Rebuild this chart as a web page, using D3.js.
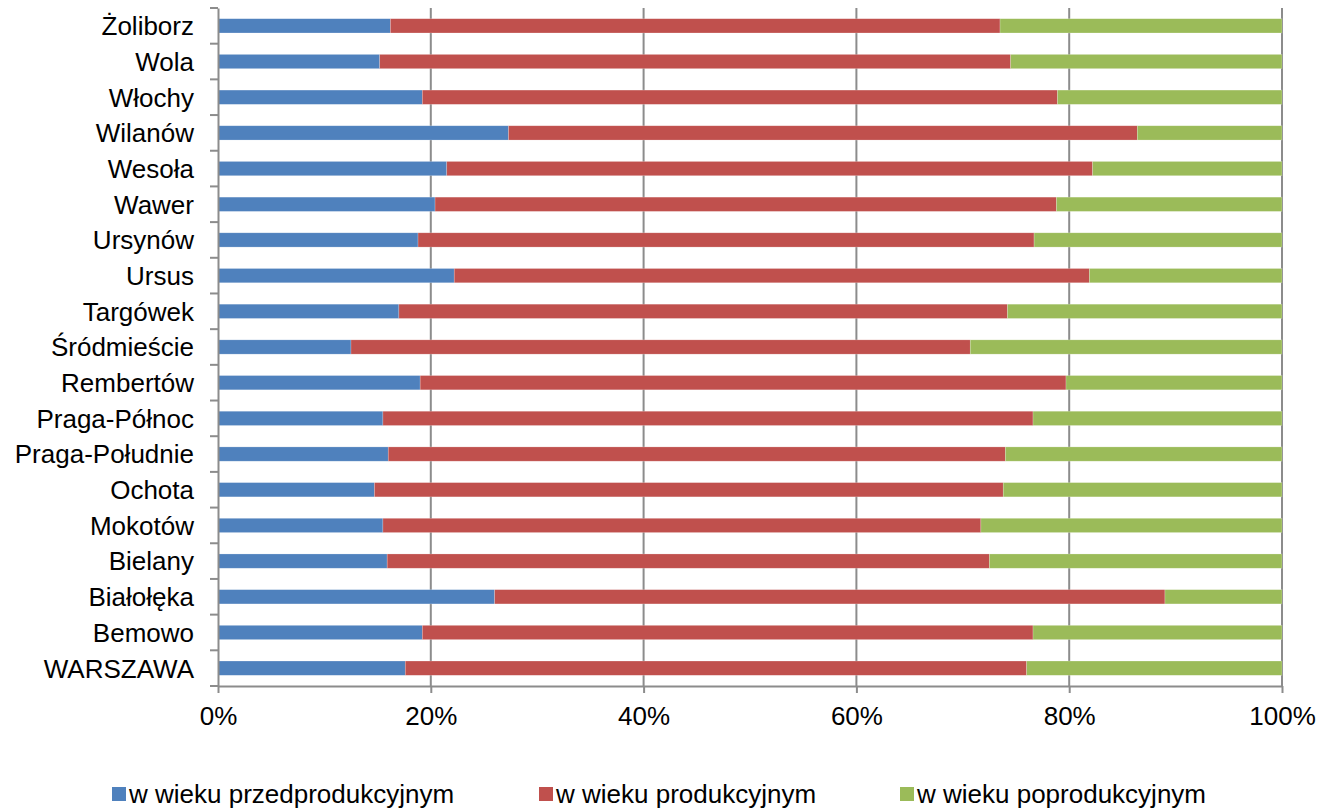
<!DOCTYPE html>
<html>
<head>
<meta charset="utf-8">
<script src="https://cdn.jsdelivr.net/npm/d3@7"></script>
<style>
  body { margin: 0; background: #fff; }
  text { font-family: "Liberation Sans", Arial, sans-serif; fill: #000; }
</style>
</head>
<body>
<svg id="chart" width="1321" height="809"></svg>
<script>
// Districts, top to bottom
const districts = ["Żoliborz", "Wola", "Włochy", "Wilanów", "Wesoła", "Wawer", "Ursynów", "Ursus",
  "Targówek", "Śródmieście", "Rembertów", "Praga-Północ", "Praga-Południe", "Ochota", "Mokotów",
  "Bielany", "Białołęka", "Bemowo", "WARSZAWA"];

// share of population, %
const przed = [16.2, 15.2, 19.2, 27.3, 21.5, 20.4, 18.8, 22.2, 17.0, 12.5, 19.0, 15.5, 16.0, 14.7, 15.5, 15.9, 26.0, 19.2, 17.6];
const prod  = [57.3, 59.3, 59.7, 59.1, 60.7, 58.4, 57.9, 59.7, 57.2, 58.2, 60.7, 61.1, 58.0, 59.1, 56.2, 56.6, 63.0, 57.4, 58.4];
const po    = [26.5, 25.5, 21.1, 13.6, 17.8, 21.2, 23.3, 18.1, 25.8, 29.3, 20.3, 23.4, 26.0, 26.2, 28.3, 27.5, 11.0, 23.4, 24.0];

const seriesNames = ["w wieku przedprodukcyjnym", "w wieku produkcyjnym", "w wieku poprodukcyjnym"];
const colors = ["#4F81BD", "#C0504D", "#9BBB59"];
const xTicks = [0, 20, 40, 60, 80, 100];

const rows = districts.map((d, i) => ({ name: d, a: przed[i], b: prod[i], c: po[i] }));
const stack = d3.stack().keys(["a", "b", "c"]).offset(d3.stackOffsetExpand)(rows);

const svg = d3.select("#chart");
const plotLeft = 218, plotRight = 1282, plotTop = 8, plotBottom = 686;

const x = d3.scaleLinear().domain([0, 1]).range([plotLeft, plotRight]);
const y = d3.scaleBand().domain(districts).range([plotTop, plotBottom]).paddingInner(0.6).paddingOuter(0.3);

// vertical gridlines
svg.append("g").selectAll("line")
  .data(xTicks.slice(1))
  .join("line")
  .attr("x1", d => x(d / 100)).attr("x2", d => x(d / 100))
  .attr("y1", plotTop).attr("y2", plotBottom)
  .attr("stroke", "#8c8c8c").attr("stroke-width", 2);

// bars
svg.append("g").selectAll("g")
  .data(stack)
  .join("g")
  .attr("fill", (d, i) => colors[i])
  .selectAll("rect")
  .data(d => d)
  .join("rect")
  .attr("x", d => x(d[0]))
  .attr("width", d => x(d[1]) - x(d[0]))
  .attr("y", d => y(d.data.name))
  .attr("height", y.bandwidth())
  .attr("stroke", "rgba(255,255,255,0.35)")
  .attr("stroke-width", 0.6);

// x axis
const xAxis = svg.append("g")
  .attr("transform", `translate(0,${plotBottom})`)
  .call(d3.axisBottom(x).tickValues(xTicks.map(v => v / 100)).tickFormat(d3.format(".0%")).tickSize(7).tickSizeOuter(0));
xAxis.select(".domain").attr("stroke", "#8c8c8c").attr("stroke-width", 2);
xAxis.selectAll(".tick line").attr("stroke", "#8c8c8c").attr("stroke-width", 2);
xAxis.selectAll(".tick text").attr("y", 39).attr("dy", 0)
  .style("font-size", "26px").style("font-family", "'Liberation Sans', Arial, sans-serif").attr("fill", "#000");

// y axis (labels) plus category boundary ticks
const yAxis = svg.append("g")
  .attr("transform", `translate(${plotLeft},0)`)
  .call(d3.axisLeft(y).tickSize(0).tickPadding(24));
yAxis.select(".domain").attr("stroke", "#8c8c8c").attr("stroke-width", 2);
yAxis.selectAll(".tick text")
  .style("font-size", "26px").style("font-family", "'Liberation Sans', Arial, sans-serif").attr("fill", "#000")
  .attr("dy", "0.36em");

svg.append("g").selectAll("line")
  .data(d3.range(districts.length + 1))
  .join("line")
  .attr("x1", plotLeft - 8).attr("x2", plotLeft)
  .attr("y1", i => plotTop + i * y.step()).attr("y2", i => plotTop + i * y.step())
  .attr("stroke", "#8c8c8c").attr("stroke-width", 2);

// legend
const legendX = [112, 539, 900];
const legend = svg.append("g").selectAll("g")
  .data(seriesNames)
  .join("g")
  .attr("transform", (d, i) => `translate(${legendX[i]},787)`);
legend.append("rect").attr("width", 14).attr("height", 14).attr("fill", (d, i) => colors[i]);
legend.append("text").attr("x", 17).attr("y", 15.5)
  .style("font-size", "26px").text(d => d);
</script>
</body>
</html>
